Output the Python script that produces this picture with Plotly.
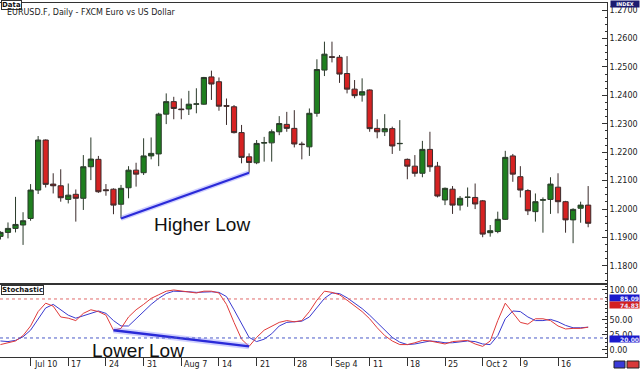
import plotly.graph_objects as go
import pandas as pd

# ---------------- data ----------------
dates = [d.strftime("%Y-%m-%d") for d in pd.bdate_range("2006-07-04", "2006-10-20")]

opens = [1.1904, 1.1918, 1.1932, 1.1944, 1.1967, 1.2067, 1.2243, 1.2088, 1.2082, 1.2034,
         1.2052, 1.2038, 1.2149, 1.2175, 1.2068, 1.2070, 1.2017, 1.2075, 1.2137, 1.2128,
         1.2187, 1.2194, 1.2334, 1.2378, 1.2352, 1.2352, 1.2369, 1.2369, 1.2465, 1.2448,
         1.2364, 1.2360, 1.2269, 1.2184, 1.2163, 1.2232, 1.2233, 1.2272, 1.2298, 1.2284,
         1.2229, 1.2219, 1.2337, 1.2489, 1.2536, 1.2534, 1.2477, 1.2422, 1.2401, 1.2419,
         1.2284, 1.2272, 1.2283, 1.2230, 1.2175, 1.2151, 1.2126, 1.2210, 1.2151, 1.2032,
         1.2070, 1.2014, 1.2041, 1.2041, 1.2029, 1.1917, 1.1921, 1.1964, 1.2187, 1.2114,
         1.2065, 1.1991, 1.2031, 1.2034, 1.2077, 1.2026, 1.1962, 1.2003, 1.2014]
highs = [1.1922, 1.1953, 1.2043, 1.1989, 1.2088, 1.2257, 1.2245, 1.2126, 1.2140, 1.2090,
         1.2069, 1.2190, 1.2252, 1.2187, 1.2088, 1.2073, 1.2085, 1.2151, 1.2163, 1.2249,
         1.2252, 1.2339, 1.2407, 1.2395, 1.2389, 1.2416, 1.2425, 1.2465, 1.2487, 1.2463,
         1.2389, 1.2366, 1.2296, 1.2196, 1.2243, 1.2254, 1.2280, 1.2327, 1.2342, 1.2348,
         1.2237, 1.2354, 1.2527, 1.2589, 1.2589, 1.2542, 1.2538, 1.2454, 1.2460, 1.2421,
         1.2316, 1.2334, 1.2290, 1.2313, 1.2178, 1.2190, 1.2240, 1.2272, 1.2166, 1.2076,
         1.2081, 1.2046, 1.2076, 1.2090, 1.2032, 1.1944, 1.1991, 1.2205, 1.2194, 1.2151,
         1.2070, 1.2055, 1.2041, 1.2112, 1.2126, 1.2029, 1.2003, 1.2026, 1.2081]
lows = [1.1893, 1.1897, 1.1918, 1.1874, 1.1959, 1.2053, 1.2076, 1.2055, 1.2026, 1.2020,
        1.1956, 1.1997, 1.2102, 1.2057, 1.2047, 1.1982, 1.1967, 1.2038, 1.2079, 1.2120,
        1.2175, 1.2151, 1.2299, 1.2316, 1.2316, 1.2331, 1.2337, 1.2367, 1.2384, 1.2346,
        1.2296, 1.2266, 1.2161, 1.2128, 1.2158, 1.2167, 1.2167, 1.2260, 1.2272, 1.2217,
        1.2175, 1.2187, 1.2325, 1.2468, 1.2516, 1.2444, 1.2407, 1.2390, 1.2378, 1.2272,
        1.2249, 1.2257, 1.2194, 1.2205, 1.2105, 1.2114, 1.2112, 1.2131, 1.2041, 1.2014,
        1.1983, 1.1995, 1.2008, 1.2000, 1.1901, 1.1903, 1.1915, 1.1962, 1.2096, 1.2041,
        1.1979, 1.1956, 1.1917, 1.1983, 1.1985, 1.1917, 1.1880, 1.1952, 1.1936]
closes = [1.1918, 1.1932, 1.1946, 1.1959, 1.2067, 1.2243, 1.2087, 1.2082, 1.2040, 1.2049,
          1.2038, 1.2149, 1.2176, 1.2061, 1.2065, 1.2014, 1.2073, 1.2137, 1.2123, 1.2187,
          1.2196, 1.2334, 1.2378, 1.2354, 1.2350, 1.2369, 1.2370, 1.2463, 1.2440, 1.2362,
          1.2362, 1.2269, 1.2182, 1.2164, 1.2231, 1.2234, 1.2272, 1.2301, 1.2284, 1.2229,
          1.2227, 1.2337, 1.2491, 1.2545, 1.2534, 1.2475, 1.2422, 1.2399, 1.2413, 1.2283,
          1.2272, 1.2283, 1.2222, 1.2231, 1.2151, 1.2126, 1.2210, 1.2149, 1.2046, 1.2073,
          1.2014, 1.2038, 1.2042, 1.2018, 1.1912, 1.1924, 1.1964, 1.2182, 1.2123, 1.2067,
          1.1994, 1.2026, 1.2033, 1.2088, 1.2026, 1.1962, 1.1999, 1.2014, 1.1950]

stoch_k = [9, 12, 15, 24, 40, 64, 78, 73, 55, 53,
           49, 61, 67, 64, 58, 33, 36, 55, 67, 76,
           86, 92, 98, 100, 98, 96, 95, 98, 98, 95,
           76, 46, 18, 6, 21, 33, 40, 46, 49, 47,
           49, 64, 83, 98, 96, 92, 83, 73, 64, 52,
           37, 24, 15, 9, 9, 12, 16, 15, 12, 10,
           14, 15, 16, 10, 6, 15, 49, 78, 61, 46,
           43, 52, 52, 49, 40, 35, 36, 36, 38]
stoch_d = [15, 14, 16, 22, 33, 52, 70, 76, 67, 58,
           53, 57, 61, 65, 61, 49, 40, 40, 52, 64,
           76, 86, 94, 98, 98, 97, 96, 97, 97, 96,
           89, 67, 43, 21, 14, 18, 27, 40, 46, 47,
           48, 55, 70, 86, 95, 94, 87, 78, 69, 58,
           46, 33, 21, 13, 9, 10, 13, 15, 14, 12,
           12, 14, 15, 14, 10, 9, 24, 52, 65, 64,
           55, 49, 49, 51, 47, 41, 37, 37, 38]

tick_dates = ["2006-07-10", "2006-07-17", "2006-07-24", "2006-07-31", "2006-08-07",
              "2006-08-14", "2006-08-21", "2006-08-28", "2006-09-04", "2006-09-11",
              "2006-09-18", "2006-09-25", "2006-10-02", "2006-10-09", "2006-10-16"]
tick_labels = ["Jul 10", "17", "24", "31", "Aug 7", "14", "21", "28", "Sep 4",
               "11", "18", "25", "Oct 2", "9", "16"]

higher_low_idx = [16, 33]
lower_low_idx = [15, 33]

# ---------------- geometry helpers (paper coords) ----------------
W, H = 640, 371
ML, MR, MT, MB = 0, 33, 3, 14
PW, PH = W - ML - MR, H - MT - MB


def px(x):
    return (x - ML) / PW


def py(y):
    return (H - MB - y) / PH


GREEN = "#1f7f1f"
RED = "#d62222"
BLUE = "#2a2ad8"
FONT = "DejaVu Sans"

fig = go.Figure()

fig.add_trace(go.Candlestick(
    x=dates, open=opens, high=highs, low=lows, close=closes,
    increasing=dict(fillcolor=GREEN, line=dict(color="#2b3b2b", width=1)),
    decreasing=dict(fillcolor=RED, line=dict(color="#3b2b2b", width=1)),
    whiskerwidth=0, xaxis="x", yaxis="y", showlegend=False, hoverinfo="skip"))

# higher-low trend line (glow + line)
hl_x = [dates[i] for i in higher_low_idx]
hl_y = [lows[i] for i in higher_low_idx]
fig.add_trace(go.Scatter(x=hl_x, y=hl_y, mode="lines", xaxis="x", yaxis="y",
                         line=dict(color="rgba(120,120,255,0.35)", width=5),
                         showlegend=False, hoverinfo="skip"))
fig.add_trace(go.Scatter(x=hl_x, y=hl_y, mode="lines", xaxis="x", yaxis="y",
                         line=dict(color=BLUE, width=2.2), showlegend=False, hoverinfo="skip"))

# stochastic
fig.add_trace(go.Scatter(x=dates, y=stoch_d, mode="lines", xaxis="x2", yaxis="y2",
                         line=dict(color="#3a3ad0", width=1), showlegend=False, hoverinfo="skip"))
fig.add_trace(go.Scatter(x=dates, y=stoch_k, mode="lines", xaxis="x2", yaxis="y2",
                         line=dict(color="#e03a3a", width=1), showlegend=False, hoverinfo="skip"))

ll_x = [dates[i] for i in lower_low_idx]
ll_y = [stoch_k[i] for i in lower_low_idx]
fig.add_trace(go.Scatter(x=ll_x, y=ll_y, mode="lines", xaxis="x2", yaxis="y2",
                         line=dict(color="rgba(120,120,255,0.35)", width=6),
                         showlegend=False, hoverinfo="skip"))
fig.add_trace(go.Scatter(x=ll_x, y=ll_y, mode="lines", xaxis="x2", yaxis="y2",
                         line=dict(color=BLUE, width=2.5), showlegend=False, hoverinfo="skip"))

main_dom = [py(283), 1]
sto_dom = [0, py(285)]

axis_common = dict(showline=True, linecolor="#333", linewidth=1, mirror=True,
                   showgrid=False, zeroline=False)

fig.update_layout(
    width=W, height=H, margin=dict(l=ML, r=MR, t=MT, b=MB),
    paper_bgcolor="white", plot_bgcolor="white",
    boxgap=0.08, boxgroupgap=0.25,
    font=dict(family=FONT, size=8, color="#222"),
    xaxis=dict(type="category", domain=[0, 1], range=[-0.06, 80.5], anchor="y",
               showticklabels=False, ticks="", rangeslider=dict(visible=False), **axis_common),
    xaxis2=dict(type="category", domain=[0, 1], range=[-0.06, 80.5], anchor="y2",
                matches="x", tickmode="array", tickvals=tick_dates, showticklabels=False,
                ticks="outside", ticklen=8, tickcolor="#333", **axis_common),
    yaxis=dict(domain=main_dom, side="right", range=[1.1740, 1.2725], anchor="x",
               tickmode="linear", tick0=1.18, dtick=0.01, tickformat=".4f",
               ticks="inside", ticklen=5, tickcolor="#333",
               minor=dict(dtick=0.0025, ticks="inside", ticklen=2, tickcolor="#333"),
               tickfont=dict(size=8, color="#222"), **axis_common),
    yaxis2=dict(domain=sto_dom, side="right", range=[-11.7, 108.3], anchor="x2",
                tickmode="array", tickvals=[0, 25, 50, 100],
                ticktext=["0.00", "25.00", "50.00", "100.00"],
                ticks="inside", ticklen=5, tickcolor="#333",
                minor=dict(dtick=6.25, ticks="inside", ticklen=2, tickcolor="#333"),
                tickfont=dict(size=8, color="#222"), **axis_common),
)

# dotted level lines in stochastic
fig.add_shape(type="line", xref="x2 domain", yref="y2", x0=0, x1=1, y0=85, y1=85,
              line=dict(color="#e06a6a", width=1, dash="dot"))
fig.add_shape(type="line", xref="x2 domain", yref="y2", x0=0, x1=1, y0=20, y1=20,
              line=dict(color="#4a5ac8", width=1, dash="dot"))

ann = []
# x tick labels (left aligned next to tick marks)
for d, lab in zip(tick_dates, tick_labels):
    ann.append(dict(x=d, xref="x2", y=0, yref="paper", yanchor="top", yshift=-1,
                    xanchor="left", xshift=1, text=lab, showarrow=False,
                    font=dict(size=8, color="#222")))

# title / labels
ann.append(dict(x=px(1), y=py(0), xref="paper", yref="paper", xanchor="left", yanchor="top",
                text="<b>Data</b>", showarrow=False, font=dict(size=7, color="#111"),
                bordercolor="#333", borderwidth=1, borderpad=0, bgcolor="white"))
ann.append(dict(x=px(5), y=py(12), xref="paper", yref="paper", xanchor="left", yanchor="middle",
                text="EURUSD.F, Daily - FXCM Euro vs US Dollar", showarrow=False,
                font=dict(size=8, color="#222")))
ann.append(dict(x=px(1), y=py(285), xref="paper", yref="paper", xanchor="left", yanchor="top",
                text="<b>Stochastic</b>", showarrow=False, font=dict(size=7, color="#111"),
                bordercolor="#333", borderwidth=1, borderpad=0, bgcolor="white"))
ann.append(dict(x=px(625), y=py(0), xref="paper", yref="paper", xanchor="center", yanchor="top",
                text="<b>INDEX</b>", showarrow=False, font=dict(size=5, color="white"),
                bgcolor="#1c1c70", borderpad=0, width=28, height=6))

# big annotation texts
ann.append(dict(x=px(152), y=py(224), xref="paper", yref="paper", xanchor="left", yanchor="middle",
                text="Higher Low", showarrow=False,
                font=dict(family="Liberation Sans", size=19, color="#111")))
ann.append(dict(x=px(90), y=py(350), xref="paper", yref="paper", xanchor="left", yanchor="middle",
                text="Lower Low", showarrow=False,
                font=dict(family="Liberation Sans", size=19, color="#111")))

# value boxes on stochastic axis
for val, txt, col in [(86, "85.09", "#1a1acc"), (75, "74.83", "#d42020"), (19, "20.00", "#1a1acc")]:
    ann.append(dict(x=px(609), y=val, xref="paper", yref="y2", xanchor="left", yanchor="middle",
                    text="<b>" + txt + "</b>", showarrow=False, font=dict(size=6, color="#e8e8ff"),
                    bgcolor=col, borderpad=0, width=29, height=6, align="right"))

fig.update_layout(annotations=ann)

# small icons at bottom right
fig.add_shape(type="rect", xref="paper", yref="paper", x0=px(614), x1=px(625), y0=py(368), y1=py(361),
              fillcolor="#3a3ad8", line=dict(color="#222", width=1))
fig.add_shape(type="rect", xref="paper", yref="paper", x0=px(627), x1=px(639), y0=py(368), y1=py(361),
              fillcolor="#d83a3a", line=dict(color="#222", width=1))

fig.write_html("out.html")
